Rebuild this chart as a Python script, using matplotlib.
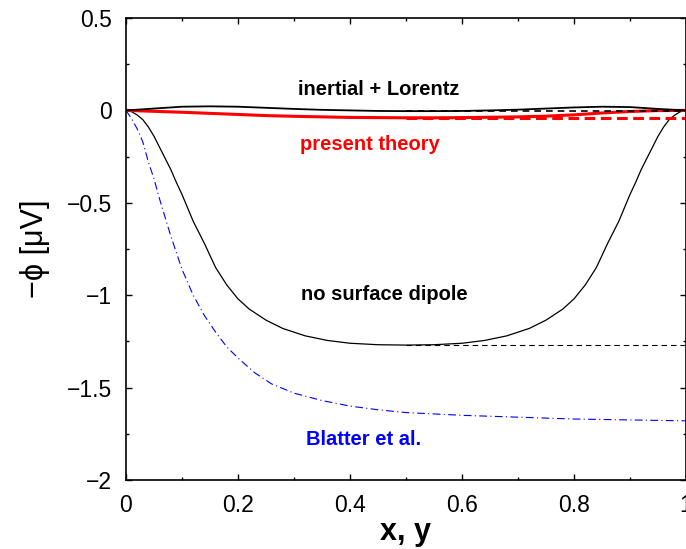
import matplotlib.pyplot as plt
from matplotlib.ticker import MultipleLocator

plt.rcParams['font.family'] = ['Liberation Sans', 'DejaVu Sans']

# no surface dipole (thin black)
x_nsd = [0, 0.01, 0.02, 0.03, 0.04, 0.05, 0.06, 0.07, 0.08, 0.09, 0.10, 0.12, 0.14, 0.16,
         0.18, 0.20, 0.22, 0.25, 0.28, 0.32, 0.36, 0.40, 0.45, 0.50, 0.55, 0.60, 0.64,
         0.68, 0.72, 0.75, 0.78, 0.80, 0.82, 0.84, 0.86, 0.88, 0.90, 0.91, 0.92, 0.93,
         0.94, 0.95, 0.96, 0.97, 0.98, 0.99, 1.0]
y_nsd = [0, -0.007, -0.025, -0.05, -0.09, -0.14, -0.20, -0.26, -0.32, -0.39, -0.455, -0.60,
         -0.72, -0.85, -0.945, -1.02, -1.075, -1.135, -1.18, -1.22, -1.245, -1.26, -1.268,
         -1.27, -1.268, -1.26, -1.245, -1.22, -1.18, -1.135, -1.075, -1.02, -0.945, -0.85,
         -0.72, -0.60, -0.455, -0.39, -0.32, -0.26, -0.20, -0.14, -0.09, -0.05, -0.025,
         -0.007, 0]
x_nsd_dash = [0.5, 1.0]
y_nsd_dash = [-1.27, -1.27]

# inertial + Lorentz (black)
x_il = [0, 0.05, 0.10, 0.15, 0.20, 0.25, 0.30, 0.35, 0.40, 0.45, 0.50, 0.55, 0.60, 0.65,
        0.70, 0.75, 0.80, 0.85, 0.90, 0.95, 1.0]
y_il = [0, 0.01, 0.02, 0.022, 0.02, 0.014, 0.008, 0.003, 0.0, -0.003, -0.004, -0.004,
        -0.003, 0.0, 0.004, 0.01, 0.016, 0.02, 0.018, 0.008, 0]
x_il_dash = [0.5, 1.0]
y_il_dash = [-0.002, -0.002]

# present theory (red)
x_pt = [0, 0.05, 0.10, 0.15, 0.20, 0.25, 0.30, 0.35, 0.40, 0.45, 0.50, 0.55, 0.60, 0.65,
        0.70, 0.75, 0.80, 0.85, 0.90, 0.95, 1.0]
y_pt = [0, -0.005, -0.010, -0.016, -0.022, -0.028, -0.032, -0.035, -0.038, -0.039, -0.040,
        -0.040, -0.039, -0.037, -0.035, -0.031, -0.024, -0.014, -0.006, -0.001, 0]
x_pt_dash = [0.5, 1.0]
y_pt_dash = [-0.042, -0.042]

# Blatter et al. (blue dash-dot)
x_bl = [0, 0.01, 0.02, 0.03, 0.04, 0.05, 0.06, 0.08, 0.10, 0.12, 0.14, 0.16, 0.18, 0.20,
        0.23, 0.26, 0.30, 0.35, 0.40, 0.45, 0.50, 0.60, 0.70, 0.80, 0.90, 1.0]
y_bl = [0, -0.045, -0.10, -0.17, -0.28, -0.37, -0.48, -0.68, -0.86, -1.00, -1.11, -1.20,
        -1.28, -1.34, -1.42, -1.48, -1.53, -1.57, -1.60, -1.62, -1.635, -1.65, -1.66,
        -1.67, -1.675, -1.68]

fig = plt.figure(figsize=(6.86, 5.49), dpi=100)
ax = fig.add_axes([126 / 686, 1 - 480 / 549, 560 / 686, 462 / 549])

ax.plot(x_bl, y_bl, color='#0000ff', lw=0.8, dashes=(7, 3, 1, 3))
ax.plot(x_nsd, y_nsd, color='black', lw=0.9)
ax.plot(x_nsd_dash, y_nsd_dash, color='black', lw=0.8, dashes=(5, 3.5))
ax.plot(x_pt_dash, y_pt_dash, color='red', lw=2.2, dashes=(3.5, 1.8))
ax.plot(x_pt, y_pt, color='red', lw=2.2)
ax.plot(x_il_dash, y_il_dash, color='black', lw=1.2, dashes=(4, 3))
ax.plot(x_il, y_il, color='black', lw=1.3)

ax.text(0.452, 0.082, 'inertial + Lorentz', color='black', fontsize=14.5,
        fontweight='bold', ha='center', va='baseline')
ax.text(0.435, -0.215, 'present theory', color='red', fontsize=14.5,
        fontweight='bold', ha='center', va='baseline')
ax.text(0.461, -1.025, 'no surface dipole', color='black', fontsize=14.5,
        fontweight='bold', ha='center', va='baseline')
ax.text(0.425, -1.81, 'Blatter et al.', color='#0000ff', fontsize=14.5,
        fontweight='bold', ha='center', va='baseline')

ax.set_xlim(0, 1)
ax.set_ylim(-2, 0.5)
ax.xaxis.set_minor_locator(MultipleLocator(0.1))
ax.yaxis.set_minor_locator(MultipleLocator(0.25))
ax.set_xticks([0, 0.2, 0.4, 0.6, 0.8, 1.0])
ax.set_xticklabels(['0', '0.2', '0.4', '0.6', '0.8', '1'])
ax.set_yticks([0.5, 0, -0.5, -1, -1.5, -2])
ax.set_yticklabels(['0.5', '0', '\u22120.5', '\u22121', '\u22121.5', '\u22122'])
ax.tick_params(which='both', direction='in', top=True, right=True, labelsize=16.5, pad=10)
ax.tick_params(which='major', length=4.5, width=1)
ax.tick_params(which='minor', length=2.5, width=1)
for s in ax.spines.values():
    s.set_linewidth(1.2)

ax.set_xlabel('x, y', fontsize=22, fontweight='bold', labelpad=0)
ax.set_ylabel('\u2212\u03d5 [\u03bcV]', fontsize=22, labelpad=12)

fig.savefig('out.png', dpi=100)
